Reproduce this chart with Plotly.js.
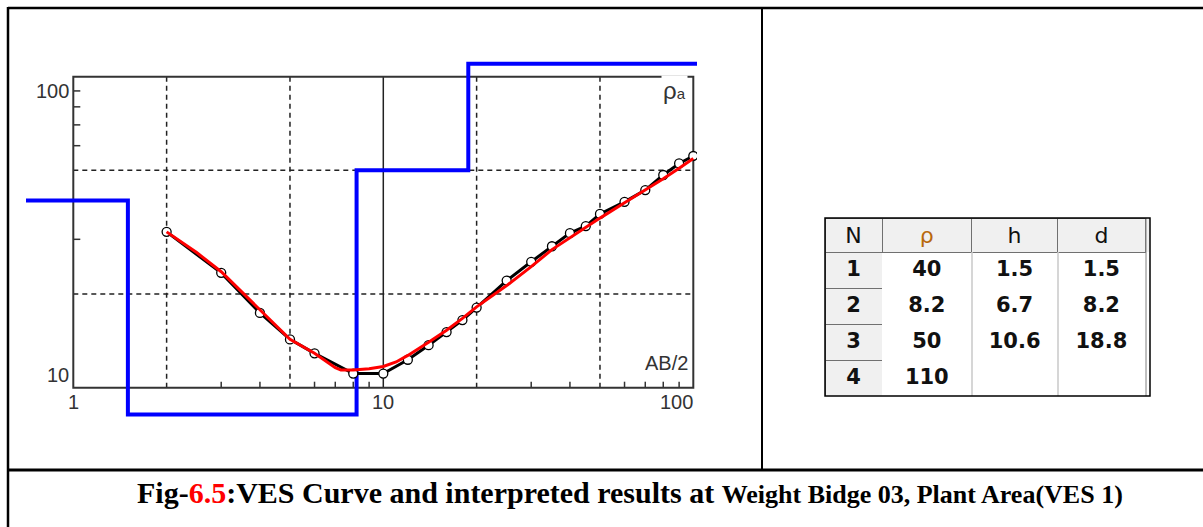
<!DOCTYPE html>
<html><head><meta charset="utf-8">
<script src="https://cdn.plot.ly/plotly-3.0.1.min.js"></script>
<style>html,body{margin:0;padding:0;background:#fff;}#chart{width:1203px;height:527px;}</style>
</head><body><div id="chart"></div>
<script>
// Observed apparent resistivity: AB/2 (m) and rho_a (Ohm.m)
const abHalf = [2, 3, 4, 5, 6, 8, 10, 12, 14, 16, 18, 20, 25, 30, 35, 40, 45, 50, 60, 70, 80, 90, 100];
const rhoObs = [31.7, 23.4, 17.4, 14.3, 12.9, 11.1, 11.1, 12.3, 13.7, 15.1, 16.5, 18.1, 22.1, 25.4, 28.5, 31.4, 33.1, 36.2, 39.6, 43.2, 48.3, 52.6, 55.6];
// Fitted (model) curve
const fitAB  = [2, 2.5, 3, 3.5, 4, 5, 6, 7, 7.3, 8, 9, 10, 11, 12, 14, 16, 18, 20, 25, 30, 35, 40, 50, 60, 70, 80, 90, 100];
const fitRho = [31.7, 27.2, 23.6, 20.3, 17.9, 14.3, 12.9, 11.6, 11.4, 11.4, 11.5, 11.7, 12.1, 12.7, 14.0, 15.3, 16.7, 18.2, 21.3, 24.5, 27.8, 30.4, 35.1, 39.3, 43.2, 47.0, 50.8, 54.6];
// Interpreted layer model
const layerN   = ['1', '2', '3', '4'];
const layerRho = [40, 8.2, 50, 110];
const layerH   = [1.5, 6.7, 10.6];
const layerD   = [1.5, 8.2, 18.8];
const tableHeader = ['N', 'ρ', 'h', 'd'];
// Axes
const xTickVals = [1, 10, 100];
const xTickText = ['1', '10', '100'];
const yTickVals = [10, 100];
const yTickText = ['10', '100'];
const xGridDash = [2, 5, 20, 50];
const xGridSolid = [10];
const yGridDash = [20, 50];
const xMinor = [3, 4, 6, 7, 8, 9, 30, 40, 60, 70, 80, 90];
const yMinor = [30, 40, 60, 70, 80, 90];
const xFrame = [1, 100];
const yFrame = [10, 100];
const xLabel = 'AB/2';

const W = 1203, H = 527;
const px = v => v / W;
const py = v => 1 - v / H;

// layout geometry (pixels)
const xDomPx = [26, 697], yDomPx = [425, 55];
const x0px = 73.3, xDec = 310, y0px = 387.7, yDec = 311;
const xRange = [(xDomPx[0] - x0px) / xDec, (xDomPx[1] - x0px) / xDec];
const yRange = [1 + (y0px - yDomPx[0]) / yDec, 1 + (y0px - yDomPx[1]) / yDec];

// model step line
const stepX = [Math.pow(10, xRange[0])].concat(layerD, [Math.pow(10, xRange[1])]);
const stepY = layerRho.concat([layerRho[layerRho.length - 1]]);

const traces = [
  {type: 'scatter', mode: 'lines', x: stepX, y: stepY, line: {color: '#0000ff', width: 4, shape: 'hv'}, hoverinfo: 'skip'},
  {type: 'scatter', mode: 'lines', x: abHalf, y: rhoObs, line: {color: '#000', width: 3}, hoverinfo: 'skip'},
  {type: 'scatter', mode: 'markers', x: abHalf, y: rhoObs, marker: {symbol: 'circle', size: 9, color: '#fff', line: {color: '#000', width: 1.3}}, hoverinfo: 'skip'},
  {type: 'scatter', mode: 'lines', x: fitAB, y: fitRho, line: {color: '#ff0000', width: 3}, hoverinfo: 'skip'},
  {type: 'table', domain: {x: [px(825), px(1146)], y: [py(396), py(218)]},
   columnwidth: [57, 89, 86, 87],
   header: {values: tableHeader, fill: {color: '#f0f0f0'}, line: {color: '#707070', width: 1},
            font: {family: 'DejaVu Sans', size: 22, color: ['#111', '#b8680c', '#111', '#111']}, height: 34, align: 'center'},
   cells: {values: [layerN, layerRho.map(String), layerH.map(String).concat(['']), layerD.map(String).concat([''])],
           fill: {color: ['#f0f0f0', '#fff', '#fff', '#fff']}, line: {color: ['#707070', '#fff', '#fff', '#fff'], width: 1},
           font: {family: 'DejaVu Sans', size: 21, color: '#111', weight: 'bold'}, height: 36, align: 'center'}}
];

const shapes = [];
// grid
xGridDash.forEach(v => shapes.push({type: 'line', layer: 'below', xref: 'x', yref: 'y', x0: v, x1: v, y0: yFrame[0], y1: yFrame[1], line: {color: '#222', width: 1.5, dash: '5px,4px'}}));
xGridSolid.forEach(v => shapes.push({type: 'line', layer: 'below', xref: 'x', yref: 'y', x0: v, x1: v, y0: yFrame[0], y1: yFrame[1], line: {color: '#222', width: 1.5}}));
yGridDash.forEach(v => shapes.push({type: 'line', layer: 'below', xref: 'x', yref: 'y', y0: v, y1: v, x0: xFrame[0], x1: xFrame[1], line: {color: '#222', width: 1.5, dash: '5px,4px'}}));
// minor ticks
xMinor.forEach(v => shapes.push({type: 'line', layer: 'below', xref: 'x', yref: 'y', x0: v, x1: v, ysizemode: 'pixel', yanchor: yFrame[0], y0: 0, y1: 6, line: {color: '#333', width: 1.5}}));
yMinor.forEach(v => shapes.push({type: 'line', layer: 'below', xref: 'x', yref: 'y', y0: v, y1: v, xsizemode: 'pixel', xanchor: xFrame[0], x0: 0, x1: 7, line: {color: '#333', width: 1.5}}));
// frame
shapes.push({type: 'rect', layer: 'below', xref: 'x', yref: 'y', x0: xFrame[0], x1: xFrame[1], y0: yFrame[0], y1: yFrame[1], line: {color: '#333', width: 2}});
// figure borders
const bl = (x0, y0, x1, y1, w) => shapes.push({type: 'line', xref: 'paper', yref: 'paper', x0: px(x0), x1: px(x1), y0: py(y0), y1: py(y1), line: {color: '#000', width: w}});
bl(8, 7, 8, 527, 2.5);
bl(8, 8, 1203, 8, 2.5);
bl(762, 8, 762, 470, 2);
bl(8, 470, 1203, 470, 3);
// table extras
const tl = (x0, y0, x1, y1, c, w) => shapes.push({type: 'line', xref: 'paper', yref: 'paper', x0: px(x0), x1: px(x1), y0: py(y0), y1: py(y1), line: {color: c, width: w}});
tl(972, 252, 972, 396, '#c8c8c8', 1.5);
tl(1058, 252, 1058, 396, '#c8c8c8', 1.5);
shapes.push({type: 'rect', xref: 'paper', yref: 'paper', x0: px(1146), x1: px(1150), y0: py(218), y1: py(252), fillcolor: '#f0f0f0', line: {width: 0}});
tl(1146, 218, 1146, 396, '#808080', 1);
shapes.push({type: 'rect', xref: 'paper', yref: 'paper', x0: px(825), x1: px(1150), y0: py(396), y1: py(218), line: {color: '#000', width: 1.5}});

const tickFont = {family: 'Liberation Sans', size: 20, color: '#333'};
const annotations = [];
// y tick labels (drawn offset inward as in the original)
const yShift = [12.5, -14.5];
yTickVals.forEach((v, i) => annotations.push({xref: 'x', yref: 'y', x: Math.log10(xFrame[0]), y: Math.log10(v), text: yTickText[i], showarrow: false, xanchor: 'right', yanchor: 'middle', xshift: -2, yshift: yShift[i], font: tickFont}));
const xShift = [0, 0, -17];
xTickVals.forEach((v, i) => annotations.push({xref: 'x', yref: 'y', x: Math.log10(v), y: Math.log10(yFrame[0]), text: xTickText[i], showarrow: false, xanchor: 'center', yanchor: 'middle', xshift: xShift[i], yshift: -14, font: tickFont}));
annotations.push({xref: 'x', yref: 'y', x: Math.log10(xFrame[1]), y: Math.log10(yFrame[0]), text: xLabel, showarrow: false, xanchor: 'right', yanchor: 'middle', xshift: -3, yshift: 25, font: tickFont});
annotations.push({xref: 'x', yref: 'y', x: Math.log10(xFrame[1]), y: Math.log10(yFrame[1]), text: "<span style='font-size:24px'>ρ</span><span style='font-size:15px'>a</span>", showarrow: false, xanchor: 'right', yanchor: 'top', xshift: -5, yshift: 2, bgcolor: '#fff', font: {family: 'Liberation Sans', size: 20, color: '#333'}});
// caption
annotations.push({xref: 'paper', yref: 'paper', x: px(630), y: py(492), xanchor: 'center', yanchor: 'middle', showarrow: false,
  text: "<b>Fig-<span style='color:#ff0000'>6.5</span>:VES Curve and interpreted results at <span style='font-size:26px'>Weight Bidge 03, Plant Area(VES 1)</span></b>",
  font: {family: 'Liberation Serif', size: 30, color: '#000'}});

const layout = {
  width: W, height: H, margin: {l: 0, r: 0, t: 0, b: 0}, showlegend: false,
  paper_bgcolor: '#fff', plot_bgcolor: 'rgba(0,0,0,0)',
  xaxis: {type: 'log', range: xRange, domain: [px(xDomPx[0]), px(xDomPx[1])], visible: false, fixedrange: true},
  yaxis: {type: 'log', range: yRange, domain: [py(yDomPx[0]), py(yDomPx[1])], visible: false, fixedrange: true},
  shapes: shapes, annotations: annotations
};
Plotly.newPlot('chart', traces, layout, {displayModeBar: false, staticPlot: true});
</script></body></html>
